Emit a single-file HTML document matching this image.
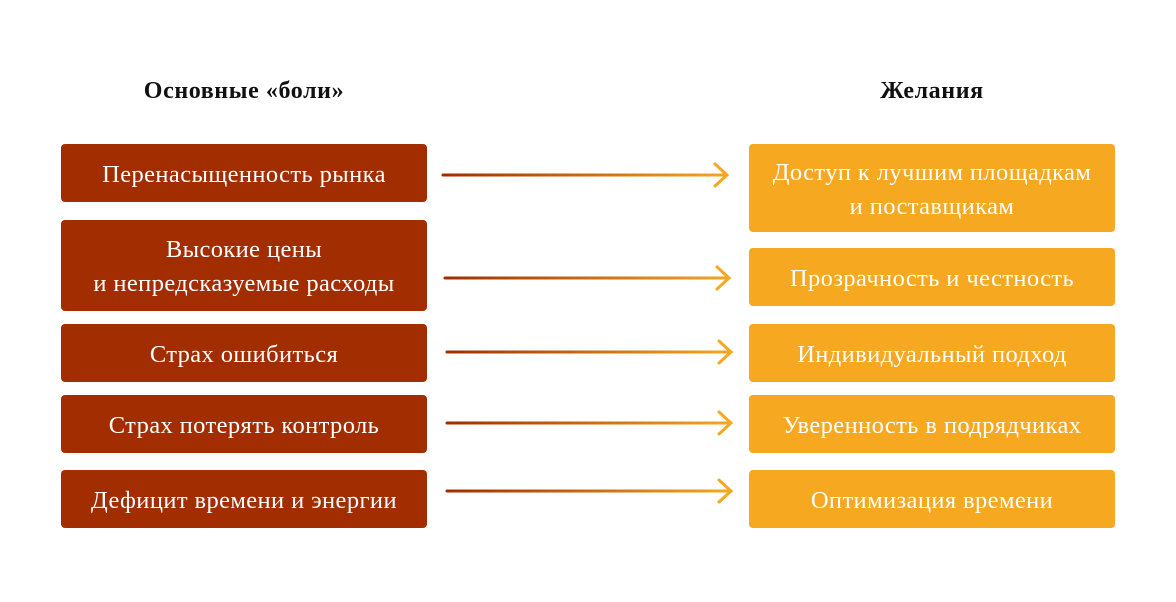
<!DOCTYPE html>
<html><head><meta charset="utf-8"><style>
body{margin:0;width:1176px;height:602px;background:#fff;position:relative;font-family:"Liberation Serif","DejaVu Serif",serif;overflow:hidden}
.h{position:absolute;top:78px;font-weight:bold;font-size:24px;letter-spacing:0.6px;color:#111;text-align:center;width:366px}
.b{position:absolute;border-radius:4px;color:#fff;font-size:24.5px;letter-spacing:0.4px;display:flex;align-items:center;justify-content:center;text-align:center;line-height:34px;padding-top:3px;box-sizing:border-box}
.l{left:61px;width:366px;background:#A12D00}
.r{left:749px;width:366px;background:#F6A821}
svg{position:absolute;left:0;top:0}
</style></head><body>
<div class="h" style="left:61px">Основные «боли»</div>
<div class="h" style="left:749px">Желания</div>
<div class="b l" style="top:144px;height:58px">Перенасыщенность рынка</div>
<div class="b l" style="top:220px;height:91px">Высокие цены<br>и непредсказуемые расходы</div>
<div class="b l" style="top:324px;height:58px">Страх ошибиться</div>
<div class="b l" style="top:395px;height:58px">Страх потерять контроль</div>
<div class="b l" style="top:470px;height:58px">Дефицит времени и энергии</div>
<div class="b r" style="top:144px;height:88px">Доступ к лучшим площадкам<br>и поставщикам</div>
<div class="b r" style="top:248px;height:58px">Прозрачность и честность</div>
<div class="b r" style="top:324px;height:58px">Индивидуальный подход</div>
<div class="b r" style="top:395px;height:58px">Уверенность в подрядчиках</div>
<div class="b r" style="top:470px;height:58px">Оптимизация времени</div>
<svg width="1176" height="602">
<defs><linearGradient id="g" gradientUnits="userSpaceOnUse" x1="443" y1="0" x2="727" y2="0"><stop offset="0" stop-color="#A12D00"/><stop offset="1" stop-color="#F6A821"/></linearGradient></defs>
<g fill="none" stroke-width="3" stroke-linecap="round">
<g transform="translate(0,175)"><line x1="443" y1="0" x2="726" y2="0" stroke="url(#g)"/><path d="M715 -11 L727 0 L715 11" stroke="#F6A821"/></g>
<g transform="translate(2,278)"><line x1="443" y1="0" x2="726" y2="0" stroke="url(#g)"/><path d="M715 -11 L727 0 L715 11" stroke="#F6A821"/></g>
<g transform="translate(4,352)"><line x1="443" y1="0" x2="726" y2="0" stroke="url(#g)"/><path d="M715 -11 L727 0 L715 11" stroke="#F6A821"/></g>
<g transform="translate(4,423)"><line x1="443" y1="0" x2="726" y2="0" stroke="url(#g)"/><path d="M715 -11 L727 0 L715 11" stroke="#F6A821"/></g>
<g transform="translate(4,491)"><line x1="443" y1="0" x2="726" y2="0" stroke="url(#g)"/><path d="M715 -11 L727 0 L715 11" stroke="#F6A821"/></g>
</g></svg>
</body></html>
